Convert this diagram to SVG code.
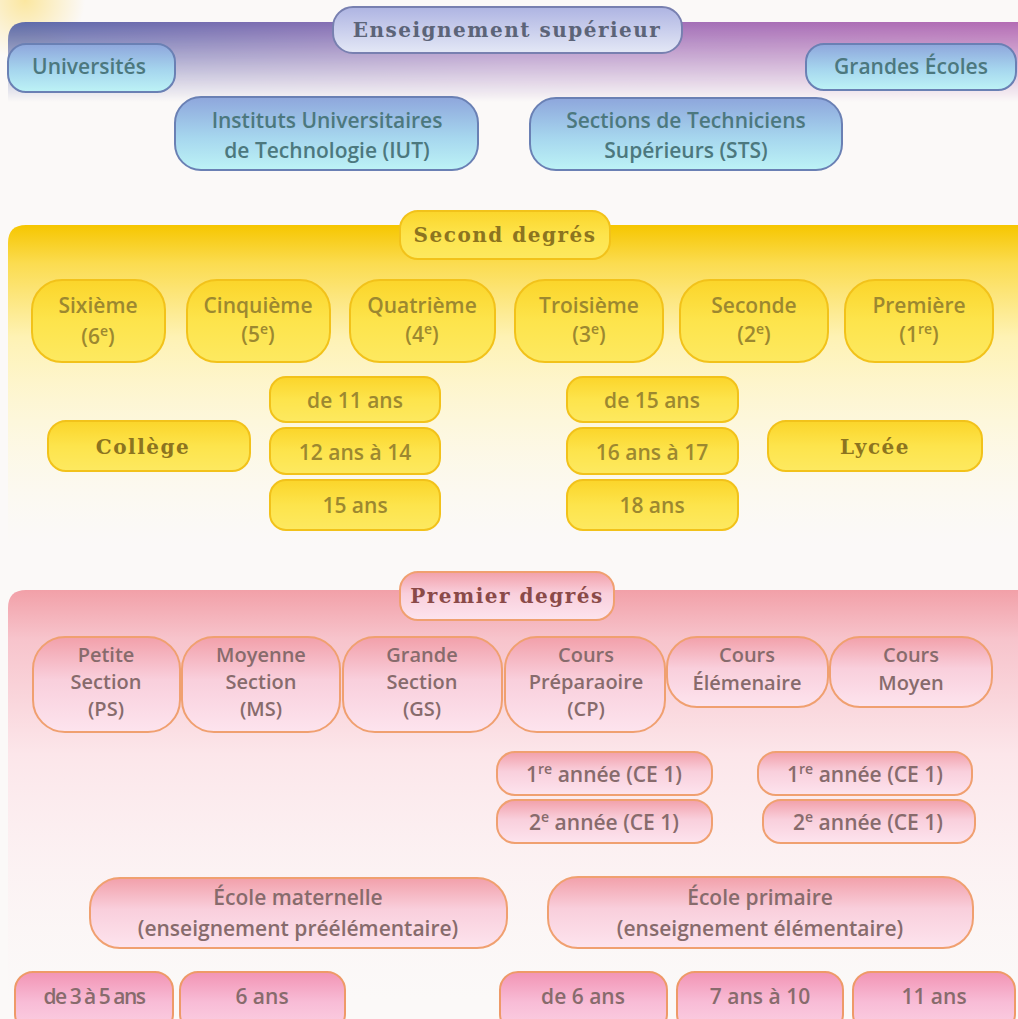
<svg xmlns="http://www.w3.org/2000/svg" width="1018" height="1019" viewBox="0 0 1018 1019">
<defs>
<style>
.sans{font-family:"Open Sans","Liberation Sans",sans-serif;font-size:21px;font-weight:600;text-anchor:middle}
.sm{font-size:20px}
.serif{font-family:"DejaVu Serif","Liberation Serif",serif;font-size:20px;font-weight:bold;letter-spacing:1.5px;text-anchor:middle}
.tb{fill:#4c787e}
.ty{fill:#9c8830}
.tp{fill:#876b6c}
.pb{fill:url(#gBlue);stroke:#6a80b4;stroke-width:2}
.ph{fill:url(#gLav);stroke:#7880b0;stroke-width:2}
.py{fill:url(#gYel);stroke:#f2c21a;stroke-width:2}
.pp{fill:url(#gPink);stroke:#f0a070;stroke-width:2}
.pq{fill:url(#gPink2);stroke:#ee9a68;stroke-width:2}
</style>
<linearGradient id="gBlue" x1="0" y1="0" x2="0" y2="1"><stop offset="0" stop-color="#8ea6dc"/><stop offset="0.55" stop-color="#a6d6ee"/><stop offset="1" stop-color="#bdf3f6"/></linearGradient>
<linearGradient id="gLav" x1="0" y1="0" x2="0" y2="1"><stop offset="0" stop-color="#aeb4e2"/><stop offset="1" stop-color="#e4e8f6"/></linearGradient>
<linearGradient id="gYel" x1="0" y1="0" x2="0" y2="1"><stop offset="0" stop-color="#fbd52a"/><stop offset="0.5" stop-color="#fde44c"/><stop offset="1" stop-color="#fde960"/></linearGradient>
<linearGradient id="gPink" x1="0" y1="0" x2="0" y2="1"><stop offset="0" stop-color="#f2a0aa"/><stop offset="0.45" stop-color="#f9cfdc"/><stop offset="1" stop-color="#fde4ee"/></linearGradient>
<linearGradient id="gPink2" x1="0" y1="0" x2="0" y2="1"><stop offset="0" stop-color="#f294b4"/><stop offset="0.5" stop-color="#f8bcd6"/><stop offset="1" stop-color="#fbd2e4"/></linearGradient>
<linearGradient id="hPurple" x1="0" y1="0" x2="1" y2="0"><stop offset="0" stop-color="#5c6aaa"/><stop offset="0.5" stop-color="#9a70b8"/><stop offset="1" stop-color="#b46cb4"/></linearGradient>
<linearGradient id="vFade" x1="0" y1="0" x2="0" y2="1"><stop offset="0" stop-color="#fff" stop-opacity="1"/><stop offset="0.25" stop-color="#fff" stop-opacity="0.75"/><stop offset="1" stop-color="#fff" stop-opacity="0"/></linearGradient>
<mask id="mPurple"><rect x="0" y="22" width="1018" height="80" fill="url(#vFade)"/></mask>
<linearGradient id="gYBand" x1="0" y1="0" x2="0" y2="1"><stop offset="0" stop-color="#f6c600"/><stop offset="0.12" stop-color="#fbdc50"/><stop offset="0.35" stop-color="#fef2b4"/><stop offset="1" stop-color="#fffbe6" stop-opacity="0"/></linearGradient>
<linearGradient id="gPBand" x1="0" y1="0" x2="0" y2="1"><stop offset="0" stop-color="#f2a0a8"/><stop offset="0.12" stop-color="#f7c4cc"/><stop offset="0.4" stop-color="#fce6ea"/><stop offset="1" stop-color="#fdf2f4" stop-opacity="0"/></linearGradient>
<radialGradient id="glow" cx="25" cy="0" r="60" gradientUnits="userSpaceOnUse"><stop offset="0" stop-color="#fbe7a0"/><stop offset="1" stop-color="#fbe7a0" stop-opacity="0"/></radialGradient>
</defs>
<rect width="1018" height="1019" fill="#fbf9f8"/>
<rect width="120" height="70" fill="url(#glow)"/>
<g id="bands">
<path d="M8 40 Q8 22 26 22 H1018 V102 H8 Z" fill="url(#hPurple)" mask="url(#mPurple)"/>
<path d="M8 243 Q8 225 26 225 H1018 V545 H8 Z" fill="url(#gYBand)"/>
<path d="M8 608 Q8 590 26 590 H1018 V1000 H8 Z" fill="url(#gPBand)"/>
</g>
<g id="sup-title"><rect class="ph" x="333" y="7" width="349" height="46" rx="20"/><text class="serif" x="507" y="37" fill="#5c6478">Enseignement supérieur</text></g>
<g id="universites"><rect class="pb" x="8" y="44" width="167" height="48" rx="18"/><text class="sans tb" x="89" y="74">Universités</text></g>
<g id="grandes-ecoles"><rect class="pb" x="806" y="44" width="210" height="46" rx="18"/><text class="sans tb" x="911" y="74">Grandes Écoles</text></g>
<g id="iut"><rect class="pb" x="175" y="97" width="303" height="73" rx="26"/><text class="sans tb" x="327" y="128">Instituts Universitaires</text><text class="sans tb" x="327" y="158">de Technologie (IUT)</text></g>
<g id="sts"><rect class="pb" x="530" y="98" width="312" height="72" rx="26"/><text class="sans tb" x="686" y="128">Sections de Techniciens</text><text class="sans tb" x="686" y="158">Supérieurs (STS)</text></g>
<g id="second-title"><rect class="py" x="400" y="211" width="210" height="48" rx="18"/><text class="serif" x="505" y="242" fill="#8c7420">Second degrés</text></g>
<g id="sixieme"><rect class="py" x="32" y="280" width="133" height="82" rx="30"/><text class="sans ty" x="98" y="313">Sixième</text><text class="sans ty" x="98" y="344">(6<tspan dy="-8" font-size="14">e</tspan><tspan dy="8">)</tspan></text></g>
<g id="cinquieme"><rect class="py" x="187" y="280" width="143" height="82" rx="30"/><text class="sans ty" x="258" y="313">Cinquième</text><text class="sans ty" x="258" y="342">(5<tspan dy="-8" font-size="14">e</tspan><tspan dy="8">)</tspan></text></g>
<g id="quatrieme"><rect class="py" x="350" y="280" width="145" height="82" rx="30"/><text class="sans ty" x="422" y="313">Quatrième</text><text class="sans ty" x="422" y="342">(4<tspan dy="-8" font-size="14">e</tspan><tspan dy="8">)</tspan></text></g>
<g id="troisieme"><rect class="py" x="515" y="280" width="148" height="82" rx="30"/><text class="sans ty" x="589" y="313">Troisième</text><text class="sans ty" x="589" y="342">(3<tspan dy="-8" font-size="14">e</tspan><tspan dy="8">)</tspan></text></g>
<g id="seconde"><rect class="py" x="680" y="280" width="148" height="82" rx="30"/><text class="sans ty" x="754" y="313">Seconde</text><text class="sans ty" x="754" y="342">(2<tspan dy="-8" font-size="14">e</tspan><tspan dy="8">)</tspan></text></g>
<g id="premiere"><rect class="py" x="845" y="280" width="148" height="82" rx="30"/><text class="sans ty" x="919" y="313">Première</text><text class="sans ty" x="919" y="342">(1<tspan dy="-8" font-size="14">re</tspan><tspan dy="8">)</tspan></text></g>
<g id="college"><rect class="py" x="48" y="421" width="202" height="50" rx="18"/><text class="serif" x="143" y="454" fill="#8c7420">Collège</text></g>
<g id="age-11"><rect class="py" x="270" y="377" width="170" height="45" rx="16"/><text class="sans ty" x="355" y="408">de 11 ans</text></g>
<g id="age-12-14"><rect class="py" x="270" y="428" width="170" height="46" rx="16"/><text class="sans ty" x="355" y="460">12 ans à 14</text></g>
<g id="age-15"><rect class="py" x="270" y="480" width="170" height="50" rx="16"/><text class="sans ty" x="355" y="513">15 ans</text></g>
<g id="age-15b"><rect class="py" x="567" y="377" width="171" height="45" rx="16"/><text class="sans ty" x="652" y="408">de 15 ans</text></g>
<g id="age-16-17"><rect class="py" x="567" y="428" width="171" height="46" rx="16"/><text class="sans ty" x="652" y="460">16 ans à 17</text></g>
<g id="age-18"><rect class="py" x="567" y="480" width="171" height="50" rx="16"/><text class="sans ty" x="652" y="513">18 ans</text></g>
<g id="lycee"><rect class="py" x="768" y="421" width="214" height="50" rx="18"/><text class="serif" x="875" y="454" fill="#8c7420">Lycée</text></g>
<g id="premier-title"><rect class="pp" x="400" y="572" width="214" height="48" rx="18"/><text class="serif" x="507" y="603" fill="#8a4a48">Premier degrés</text></g>
<g id="ps"><rect class="pp" x="33" y="637" width="147" height="95" rx="32"/><text class="sans sm tp" x="106" y="662">Petite</text><text class="sans sm tp" x="106" y="689">Section</text><text class="sans sm tp" x="106" y="716">(PS)</text></g>
<g id="ms"><rect class="pp" x="182" y="637" width="158" height="95" rx="32"/><text class="sans sm tp" x="261" y="662">Moyenne</text><text class="sans sm tp" x="261" y="689">Section</text><text class="sans sm tp" x="261" y="716">(MS)</text></g>
<g id="gs"><rect class="pp" x="343" y="637" width="159" height="95" rx="32"/><text class="sans sm tp" x="422" y="662">Grande</text><text class="sans sm tp" x="422" y="689">Section</text><text class="sans sm tp" x="422" y="716">(GS)</text></g>
<g id="cp"><rect class="pp" x="505" y="637" width="160" height="95" rx="32"/><text class="sans sm tp" x="586" y="662">Cours</text><text class="sans sm tp" x="586" y="689">Préparaoire</text><text class="sans sm tp" x="586" y="716">(CP)</text></g>
<g id="ce"><rect class="pp" x="667" y="637" width="161" height="70" rx="30"/><text class="sans sm tp" x="747" y="662">Cours</text><text class="sans sm tp" x="747" y="690">Élémenaire</text></g>
<g id="cm"><rect class="pp" x="830" y="637" width="162" height="70" rx="30"/><text class="sans sm tp" x="911" y="662">Cours</text><text class="sans sm tp" x="911" y="690">Moyen</text></g>
<g id="ce1-a"><rect class="pp" x="497" y="752" width="215" height="43" rx="18"/><text class="sans tp" x="604" y="782">1<tspan dy="-8" font-size="14">re</tspan><tspan dy="8"> année (CE 1)</tspan></text></g>
<g id="ce1-b"><rect class="pp" x="497" y="800" width="215" height="43" rx="18"/><text class="sans tp" x="604" y="830">2<tspan dy="-8" font-size="14">e</tspan><tspan dy="8"> année (CE 1)</tspan></text></g>
<g id="cm1-a"><rect class="pp" x="758" y="752" width="214" height="43" rx="18"/><text class="sans tp" x="865" y="782">1<tspan dy="-8" font-size="14">re</tspan><tspan dy="8"> année (CE 1)</tspan></text></g>
<g id="cm1-b"><rect class="pp" x="763" y="800" width="212" height="43" rx="18"/><text class="sans tp" x="868" y="830">2<tspan dy="-8" font-size="14">e</tspan><tspan dy="8"> année (CE 1)</tspan></text></g>
<g id="maternelle"><rect class="pp" x="90" y="878" width="417" height="70" rx="30"/><text class="sans tp" x="298" y="905">École maternelle</text><text class="sans tp" x="298" y="936">(enseignement préélémentaire)</text></g>
<g id="primaire"><rect class="pp" x="548" y="877" width="425" height="71" rx="30"/><text class="sans tp" x="760" y="905">École primaire</text><text class="sans tp" x="760" y="936">(enseignement élémentaire)</text></g>
<g id="age-3-5"><rect class="pq" x="15" y="972" width="158" height="60" rx="18"/><text class="sans tp" x="94" y="1004" style="letter-spacing:-1.5px">de 3 à 5 ans</text></g>
<g id="age-6"><rect class="pq" x="180" y="972" width="165" height="60" rx="18"/><text class="sans tp" x="262" y="1004">6 ans</text></g>
<g id="age-6b"><rect class="pq" x="500" y="972" width="167" height="60" rx="18"/><text class="sans tp" x="583" y="1004">de 6 ans</text></g>
<g id="age-7-10"><rect class="pq" x="677" y="972" width="166" height="60" rx="18"/><text class="sans tp" x="760" y="1004">7 ans à 10</text></g>
<g id="age-11b"><rect class="pq" x="853" y="972" width="162" height="60" rx="18"/><text class="sans tp" x="934" y="1004">11 ans</text></g>
<g id="connectors"/>
</svg>
